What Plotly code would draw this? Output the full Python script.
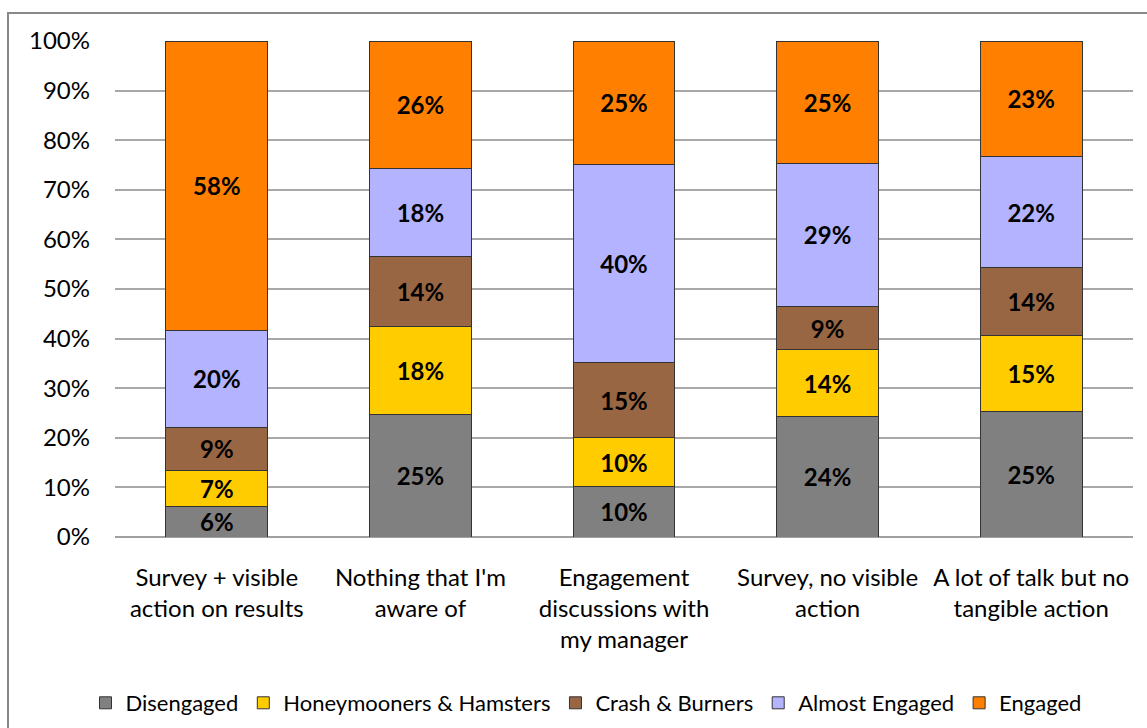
import plotly.graph_objects as go

categories = [
    "Survey + visible<br>action on results",
    "Nothing that I'm<br>aware of",
    "Engagement<br>discussions with<br>my manager",
    "Survey, no visible<br>action",
    "A lot of talk but no<br>tangible action",
]
series_names = ["Disengaged", "Honeymooners & Hamsters", "Crash & Burners", "Almost Engaged", "Engaged"]
disengaged = [6.2, 24.6, 10.1, 24.2, 25.4]
honeymooners = [7.3, 17.9, 9.9, 13.6, 15.3]
crash_burners = [8.6, 14.0, 15.1, 8.6, 13.6]
almost_engaged = [19.6, 17.8, 40.0, 29.0, 22.4]
engaged = [58.3, 25.7, 24.9, 24.6, 23.3]
colors = ["#808080", "#FFCC00", "#996644", "#B3B3FF", "#FF8000"]
y_ticks = [0, 10, 20, 30, 40, 50, 60, 70, 80, 90, 100]
y_tick_text = [f"{v}%" for v in y_ticks]

FONT = "Lato"
fig = go.Figure()
for name, vals, col in zip(series_names,
                           [disengaged, honeymooners, crash_burners, almost_engaged, engaged],
                           colors):
    fig.add_trace(go.Bar(
        x=categories, y=vals, name=name,
        marker=dict(color=col, line=dict(color="#333333", width=1)),
        texttemplate="%{y:.0f}%", textposition="inside", insidetextanchor="middle",
        textangle=0,
        textfont=dict(family=FONT, size=24, color="#000000", weight="bold"),
        constraintext="none",
    ))

L, R, T, B = 115, 14, 41, 191
W, H = 1147, 728
pw, ph = W - L - R, H - T - B

def px_x(x):
    return (x - L) / pw

def px_y(y):
    return (H - B - y) / ph

fig.update_layout(
    width=W, height=H,
    margin=dict(l=L, r=R, t=T, b=B, pad=0, autoexpand=False),
    barmode="stack", bargap=0.5,
    paper_bgcolor="white", plot_bgcolor="white",
    font=dict(family=FONT, size=24, color="#000000"),
    showlegend=True,
    legend=dict(orientation="h", x=px_x(586), xanchor="center", y=px_y(703), yanchor="middle",
                font=dict(family=FONT, size=22, color="#000000"), traceorder="normal",
                itemwidth=30, bgcolor="rgba(0,0,0,0)"),
    xaxis=dict(showgrid=False, ticks="", tickfont=dict(family=FONT, size=24, color="#000000"),
               ticklabelstandoff=24, showline=False, automargin=False),
    yaxis=dict(range=[0, 100], tickmode="array", tickvals=y_ticks, ticktext=y_tick_text,
               showgrid=True, gridcolor="#A8A8A8", gridwidth=1.5, zeroline=True,
               zerolinecolor="#A0A0A0", zerolinewidth=1.5, ticks="", ticklabelstandoff=24,
               tickfont=dict(family=FONT, size=24, color="#000000"), showline=False,
               automargin=False),
    shapes=[dict(type="rect", xref="paper", yref="paper",
                 x0=px_x(8), x1=px_x(1160), y0=px_y(760), y1=px_y(13),
                 line=dict(color="#888888", width=2), fillcolor="rgba(0,0,0,0)", layer="below")],
)

fig.write_html("out.html")
